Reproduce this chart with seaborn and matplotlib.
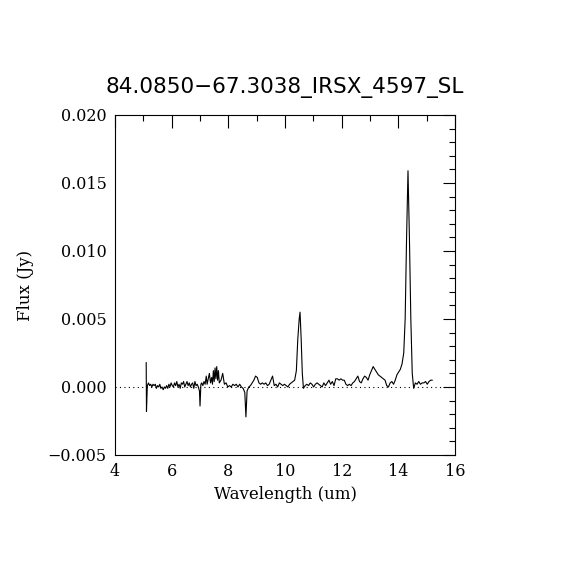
import matplotlib
matplotlib.use("Agg")
from matplotlib import pyplot as plt
from matplotlib.ticker import MultipleLocator, FuncFormatter
import numpy as np
import pandas as pd
import seaborn as sns

# spectrum
wavelength = [
    5.10, 5.11, 5.14, 5.18, 5.22, 5.26, 5.30, 5.34, 5.38, 5.42, 5.46, 5.50,
    5.54, 5.58, 5.62, 5.66, 5.70, 5.74, 5.78, 5.82, 5.86, 5.90, 5.94, 5.98,
    6.02, 6.06, 6.10, 6.14, 6.18, 6.22, 6.26, 6.30, 6.34, 6.38, 6.42, 6.46,
    6.50, 6.54, 6.58, 6.62, 6.66, 6.70, 6.74, 6.78, 6.82, 6.86, 6.90, 6.94,
    6.98, 7.00, 7.03, 7.06, 7.10, 7.14, 7.18, 7.22, 7.25, 7.29, 7.33, 7.37,
    7.41, 7.44, 7.47, 7.50, 7.53, 7.56, 7.59, 7.62, 7.65, 7.68,
    7.74, 7.80, 7.86, 7.92, 7.98, 8.04, 8.10, 8.16, 8.22, 8.28, 8.34, 8.40,
    8.46, 8.52, 8.58, 8.62, 8.66, 8.72, 8.78, 8.84, 8.90, 8.96, 9.02, 9.08,
    9.14, 9.20, 9.26, 9.32, 9.38, 9.44, 9.50, 9.56, 9.62, 9.68, 9.74, 9.80,
    9.86, 9.92, 9.98, 10.04, 10.10, 10.16, 10.22, 10.28, 10.34, 10.40, 10.45,
    10.50, 10.53, 10.57, 10.61, 10.65, 10.71, 10.77, 10.83, 10.89, 10.95,
    11.01, 11.07, 11.13, 11.19, 11.25, 11.31, 11.37, 11.43, 11.49, 11.55,
    11.61, 11.67, 11.73, 11.79, 11.85, 11.91, 11.97, 12.03, 12.09, 12.15,
    12.21, 12.27, 12.33, 12.39, 12.45, 12.51, 12.57, 12.63, 12.69, 12.75,
    12.81, 12.87, 12.93, 12.99, 13.05, 13.11, 13.17, 13.23, 13.29, 13.35,
    13.41, 13.47, 13.53, 13.59, 13.65, 13.71, 13.77, 13.83, 13.89, 13.95,
    14.01, 14.07, 14.13, 14.19, 14.24, 14.29, 14.34, 14.39, 14.44, 14.49,
    14.54, 14.60, 14.66, 14.72, 14.78, 14.84, 14.90, 14.96, 15.02, 15.08,
    15.14, 15.20,
]
flux = [
    0.0018, -0.0018, 0.0001, 0.0003, 0.0001, 0.0002, 0.0000, 0.0002, 0.0001, 0.0002, -0.0001, 0.0001,
    0.0000, 0.0002, -0.0001, 0.0000, -0.0002, 0.0000, -0.0001, 0.0001, -0.0001, 0.0002, 0.0000, 0.0003,
    0.0001, 0.0000, 0.0003, 0.0001, 0.0004, 0.0000, 0.0002, -0.0001, 0.0003, 0.0002, 0.0004, 0.0000,
    0.0002, 0.0004, 0.0001, 0.0003, 0.0000, 0.0002, 0.0003, -0.0001, 0.0004, 0.0001, 0.0002, 0.0000,
    -0.0003, -0.0014, 0.0002, 0.0003, 0.0001, 0.0004, 0.0002, 0.0008, 0.0002, 0.0006, 0.0010, 0.0003,
    0.0007, 0.0002, 0.0012, 0.0004, 0.0014, 0.0006, 0.0015, 0.0005, 0.0012, 0.0003,
    0.0005, 0.0010, 0.0002, 0.0003, 0.0000, 0.0001, 0.0000, 0.0002, 0.0001, 0.0002, 0.0000, 0.0002,
    0.0000, -0.0001, -0.0004, -0.0022, -0.0003, 0.0000, 0.0001, 0.0003, 0.0005, 0.0008, 0.0007, 0.0003,
    0.0002, 0.0003, 0.0002, 0.0003, 0.0001, 0.0002, 0.0005, 0.0008, 0.0001, 0.0002, 0.0000, 0.0003,
    0.0002, 0.0001, 0.0002, 0.0001, 0.0000, 0.0002, 0.0003, 0.0004, 0.0005, 0.0012, 0.0035,
    0.0050, 0.0055, 0.0035, 0.0010, -0.0001, 0.0001, 0.0002, 0.0001, 0.0003, 0.0002,
    0.0000, 0.0002, 0.0003, 0.0002, 0.0001, 0.0000, 0.0003, 0.0001, 0.0003, 0.0005,
    0.0002, 0.0004, 0.0001, 0.0006, 0.0006, 0.0005, 0.0006, 0.0005, 0.0005, 0.0002,
    0.0001, 0.0002, 0.0001, 0.0003, 0.0004, 0.0006, 0.0008, 0.0004, 0.0003, 0.0006,
    0.0008, 0.0007, 0.0005, 0.0009, 0.0012, 0.0015, 0.0013, 0.0011, 0.0009, 0.0008,
    0.0007, 0.0006, 0.0005, 0.0001, 0.0000, 0.0003, 0.0004, 0.0002, 0.0005, 0.0009,
    0.0011, 0.0013, 0.0017, 0.0025, 0.0050, 0.0110, 0.0159, 0.0110, 0.0050, 0.0010,
    -0.0001, 0.0003, 0.0002, 0.0004, 0.0002, 0.0003, 0.0003, 0.0004, 0.0002, 0.0004,
    0.0005, 0.0005,
]

title = "84.0850\u221267.3038_IRSX_4597_SL"
xlim = (4, 16)
ylim = (-0.005, 0.020)

df = pd.DataFrame({"wavelength": wavelength, "flux": flux})

sns.set_style("white")
plt.rcParams["font.family"] = ["DejaVu Serif"]
plt.rcParams["text.color"] = "black"
plt.rcParams["axes.labelcolor"] = "black"

fig = plt.figure(figsize=(5.7, 5.7), dpi=100)
ax = fig.add_axes([0.2018, 0.2018, 0.5965, 0.5965])

sns.lineplot(data=df, x="wavelength", y="flux", ax=ax, sort=False,
             estimator=None, color="black", linewidth=0.8)
ax.axhline(0, color="black", linestyle=(0, (1, 3)), linewidth=0.8)

ax.set_xlim(xlim)
ax.set_ylim(ylim)
ax.xaxis.set_major_locator(MultipleLocator(2))
ax.xaxis.set_minor_locator(MultipleLocator(1))
ax.yaxis.set_major_locator(MultipleLocator(0.005))
ax.yaxis.set_minor_locator(MultipleLocator(0.001))
ax.yaxis.set_major_formatter(FuncFormatter(lambda v, p: f"{v:.3f}".replace("-", "\u2212")))
ax.tick_params(which="both", direction="in", top=True, right=True,
               colors="black", width=0.8, labelsize=11.5)
ax.tick_params(which="major", length=9, pad=6)
ax.tick_params(which="minor", length=4.5)
for s in ax.spines.values():
    s.set_color("black")
    s.set_linewidth(0.8)

ax.set_xlabel("Wavelength (um)", fontsize=12, labelpad=4)
ax.set_ylabel("Flux (Jy)", fontsize=12, labelpad=10)
ax.set_title(title, fontsize=15.5, family="DejaVu Sans", pad=16)

fig.savefig("out.png", dpi=100, facecolor="white")
